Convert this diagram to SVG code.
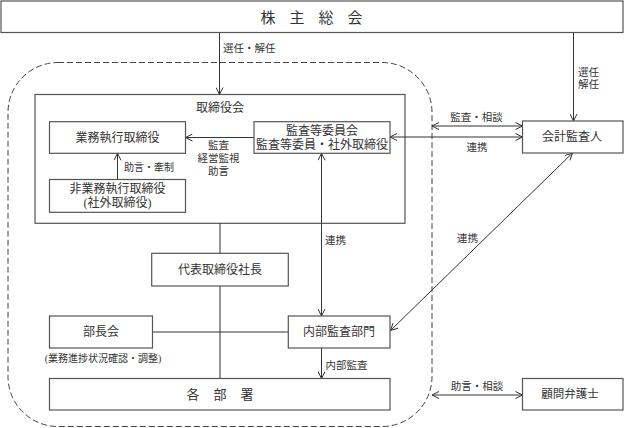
<svg xmlns="http://www.w3.org/2000/svg" width="625" height="428" viewBox="0 0 625 428">
<style>
.box{fill:#fff;stroke:#555;stroke-width:1.2}
.t{font-family:"Liberation Serif","Noto Sans CJK JP",serif;fill:#333;dominant-baseline:central}
.m{text-anchor:middle}
.f12{font-size:12px}
.f11{font-size:10.5px}
.f10{font-size:10px}
.ln{fill:none;stroke:#333;stroke-width:1}
.dash{fill:none;stroke:#444;stroke-width:1;stroke-dasharray:6 3}
</style>
<defs>
<marker id="ah" viewBox="0 0 8 8" refX="7.5" refY="4" markerWidth="8" markerHeight="8" markerUnits="userSpaceOnUse" orient="auto-start-reverse">
<path d="M0.5,0.5 L7.5,4 L0.5,7.5" fill="none" stroke="#333" stroke-width="1"/>
</marker>
</defs>
<rect width="625" height="428" fill="#fff"/>

<rect id="boundary" class="dash" x="8" y="62.5" width="424" height="364" rx="50" ry="50"/>

<g id="board">
<rect class="box" x="35" y="94.5" width="370" height="128.8"/>
<text class="t f12 m" x="220" y="108">取締役会</text>
</g>

<g id="connectors">
<line class="ln" x1="219.5" y1="32.5" x2="219.5" y2="94.5" marker-end="url(#ah)"/>
<line class="ln" x1="573.5" y1="32.5" x2="573.5" y2="121" marker-end="url(#ah)"/>
<line class="ln" x1="220" y1="223.3" x2="220" y2="378.5"/>
<line class="ln" x1="152.5" y1="332" x2="288.3" y2="332"/>
<line class="ln" x1="254" y1="137.5" x2="185.5" y2="137.5" marker-end="url(#ah)"/>
<line class="ln" x1="117.5" y1="179.5" x2="117.5" y2="153.3" marker-end="url(#ah)"/>
<line class="ln" x1="321.5" y1="153.3" x2="321.5" y2="316" marker-start="url(#ah)" marker-end="url(#ah)"/>
<line class="ln" x1="321.5" y1="348" x2="321.5" y2="378.5" marker-end="url(#ah)"/>
<line class="ln" x1="432" y1="126" x2="522.5" y2="126" marker-start="url(#ah)" marker-end="url(#ah)"/>
<line class="ln" x1="390" y1="137" x2="522.5" y2="137" marker-start="url(#ah)" marker-end="url(#ah)"/>
<line class="ln" x1="572.5" y1="153" x2="390.5" y2="330.5" marker-start="url(#ah)" marker-end="url(#ah)"/>
<line class="ln" x1="432" y1="395" x2="522.5" y2="395" marker-start="url(#ah)" marker-end="url(#ah)"/>
<text class="t f11" x="223" y="48">選任・解任</text>
<text class="t f11" x="578" y="72">選任</text>
<text class="t f11" x="578" y="84">解任</text>
<text class="t f11 m" x="218.5" y="145">監査</text>
<text class="t f11 m" x="218.5" y="158">経営監視</text>
<text class="t f11 m" x="218.5" y="171">助言</text>
<text class="t f10" x="124" y="167">助言・牽制</text>
<text class="t f11 m" x="476.5" y="117">監査・相談</text>
<text class="t f11 m" x="477" y="147.5">連携</text>
<text class="t f11 m" x="467.5" y="238">連携</text>
<text class="t f11" x="325" y="240">連携</text>
<text class="t f11" x="325.5" y="365">内部監査</text>
<text class="t f11 m" x="477" y="386">助言・相談</text>
</g>

<g id="shareholders">
<rect class="box" x="1" y="1" width="622" height="31.5"/>
<text class="t" font-size="15" x="260.5 276 289.5 305 318.5 334 347.5" y="17.5">株 主 総 会</text>
</g>

<g id="exec-directors">
<rect class="box" x="49.5" y="121.7" width="136" height="31.6"/>
<text class="t f12 m" x="117.5" y="137.5">業務執行取締役</text>
</g>

<g id="audit-committee">
<rect class="box" x="254" y="121.7" width="136" height="31.6"/>
<text class="t f12 m" x="322" y="130.5">監査等委員会</text>
<text class="t f12 m" x="322" y="145">監査等委員・社外取締役</text>
</g>

<g id="non-exec-directors">
<rect class="box" x="49.5" y="179.5" width="136" height="32.8"/>
<text class="t f12 m" x="117.5" y="189">非業務執行取締役</text>
<text class="t f12 m" x="117.5" y="203">(社外取締役)</text>
</g>

<g id="president">
<rect class="box" x="151.7" y="253.3" width="136.6" height="32.7"/>
<text class="t f12 m" x="220" y="270">代表取締役社長</text>
</g>

<g id="managers-meeting">
<rect class="box" x="49.5" y="316" width="103" height="32"/>
<text class="t f12 m" x="101" y="332">部長会</text>
<text class="t f10 m" x="103" y="358">(業務進捗状況確認・調整)</text>
</g>

<g id="internal-audit">
<rect class="box" x="288.3" y="316" width="101.7" height="32"/>
<text class="t f12 m" x="339" y="332">内部監査部門</text>
</g>

<g id="departments">
<rect class="box" x="49.5" y="378.5" width="340.5" height="31.5"/>
<text class="t" font-size="13" x="186.5 200 213.5 227 240.5" y="394">各 部 署</text>
</g>

<g id="accounting-auditor">
<rect class="box" x="522.5" y="121" width="100.5" height="32"/>
<text class="t f12 m" x="572" y="137">会計監査人</text>
</g>

<g id="legal-counsel">
<rect class="box" x="522.5" y="378.5" width="100.5" height="31.5"/>
<text class="t m" font-size="11.5" x="570" y="394">顧問弁護士</text>
</g>
</svg>
